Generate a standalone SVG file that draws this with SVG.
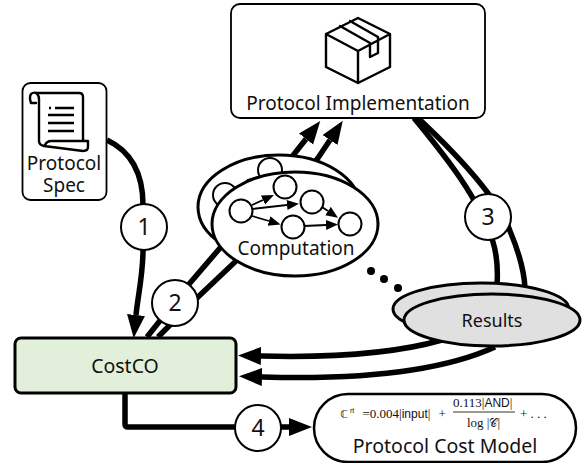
<svg xmlns="http://www.w3.org/2000/svg" width="587" height="463" viewBox="0 0 587 463">
<style>
text{font-family:"Noto Sans","Open Sans",sans-serif;fill:#111;text-anchor:middle}
.m{font-family:"Liberation Serif",serif;font-size:13px;text-anchor:start}
.f{font-family:"Liberation Sans",sans-serif;font-size:12px}
.w{fill:none;stroke:#000;stroke-width:5.500;stroke-linecap:butt}
.a{marker-end:url(#h)}
.s{fill:none;stroke:#000;stroke-width:1.800}
.i{fill:none;stroke:#000;stroke-width:2.400;stroke-linejoin:round;stroke-linecap:round}
.n{fill:#fff;stroke:#000;stroke-width:2}
.e{fill:#fff;stroke:#000;stroke-width:3}
.r{fill:#e0e0e0;stroke:#000;stroke-width:3}
.d{fill:#000}
.l{font-size:19px}
.c{font-size:23px}
</style>
<defs>
<marker id="h" markerUnits="userSpaceOnUse" markerWidth="24" markerHeight="20" refX="0" refY="9" orient="auto"><path d="M0 0L23 9L0 18Z" fill="#000"/></marker>
<marker id="t" markerUnits="userSpaceOnUse" markerWidth="14" markerHeight="12" refX="0" refY="5" orient="auto"><path d="M0 0L12 5L0 10Z" fill="#000"/></marker>
</defs>
<g id="connectors">
<path class="w a" d="M107 140C128 150 143 170 143 205L143 250C143 275 138 295 136 315"/>
<path class="w a" d="M147 337L190 283L220 248L306 139"/>
<path class="w a" d="M158 337L198 297L235 262L318 158L330 140"/>
<path class="w" d="M414 118C440 150 478 195 493 242C497 255 498 270 497 285"/>
<path class="w" d="M418 118C450 148 497 195 510 231C518 250 524 268 525 288"/>
<path class="w a" d="M442 340C400 352 340 358 261 356"/>
<path class="w a" d="M495 347C440 372 360 380 262 377"/>
<path class="w a" d="M125 393L125 424Q125 427 128 427L289 427"/>
</g>
<g id="spec">
<rect x="22.500" y="83" width="84" height="117" rx="8" fill="#fff" stroke="#000" stroke-width="1.800"/>
<path class="i" d="M36 103H31Q29 97 31 94Q33 92 37 93H79Q83 93 83 97V141M36 93Q39 95 39 99V141Q39 145 44 146L83 151Q88 151 88 147V141H51Q47 141 45 145"/>
<path d="M49 108h2M55 108h19M48 115h26M48 123h26M48 131h26" stroke="#000" stroke-width="2.600" fill="none"/>
<text class="l" x="64" y="170">Protocol<tspan x="64" dy="22">Spec</tspan></text>
</g>
<g id="implementation">
<rect x="231" y="4" width="254" height="114" rx="9" fill="#fff" stroke="#000" stroke-width="1.800"/>
<path class="i" d="M358 18L390 34L358 51L326 34ZM326 34V67L358 83L390 67V34M358 51V83M340 26L370 43V57L378 53V37L350 21"/>
<text class="l" x="358" y="110">Protocol Implementation</text>
</g>
<g id="computation">
<ellipse class="e" cx="279" cy="207" rx="81" ry="52"/>
<circle class="n" cx="270" cy="170" r="12"/>
<circle class="n" cx="225" cy="195" r="12"/>
<path d="M247 180L258 177" stroke="#000" stroke-width="1.500"/>
<ellipse class="e" cx="295" cy="224" rx="83" ry="52"/>
<circle class="n" cx="241" cy="211" r="11.500"/>
<circle class="n" cx="285" cy="187" r="11.500"/>
<circle class="n" cx="312" cy="202" r="11.500"/>
<circle class="n" cx="293" cy="227" r="11.500"/>
<circle class="n" cx="350" cy="224" r="11.500"/>
<path class="s" marker-end="url(#t)" d="M252 205L263 200"/>
<path class="s" marker-end="url(#t)" d="M252 209L287 205"/>
<path class="s" marker-end="url(#t)" d="M252 216L269 221"/>
<path class="s" marker-end="url(#t)" d="M322 207L328 211"/>
<path class="s" marker-end="url(#t)" d="M304 226L326 225"/>
<text class="l" x="296" y="255">Computation</text>
</g>
<g id="ellipsis">
<circle class="d" cx="371" cy="271" r="4"/>
<circle class="d" cx="384" cy="279" r="4"/>
<circle class="d" cx="398" cy="288" r="4"/>
</g>
<g id="results">
<ellipse class="r" cx="481" cy="309" rx="88" ry="26"/>
<ellipse class="r" cx="492" cy="320" rx="88" ry="26"/>
<text x="492" y="327" style="font-size:18px">Results</text>
</g>
<g id="costco">
<rect x="15" y="338" width="221" height="55" rx="6" fill="#e2efda" stroke="#000" stroke-width="3"/>
<text x="125" y="373" style="font-size:19.500px">CostCO</text>
</g>
<g id="model">
<rect x="314" y="394" width="262" height="68" rx="34" fill="#fff" stroke="#000" stroke-width="2.500"/>
<text class="m" x="340.500" y="418" style="font-family:'DejaVu Sans',sans-serif;font-size:11px">ℂ</text>
<text class="m f" x="350" y="413" style="font-size:7px">rt</text>
<text class="m" x="362.500" y="418">=0.004|<tspan class="f">input</tspan>|</text>
<text class="m" x="438.500" y="418">+</text>
<text class="m" x="453" y="407">0.113|<tspan class="f">AND</tspan>|</text>
<path d="M453 412H515" stroke="#000" stroke-width="0.800"/>
<text class="m" x="467" y="427">log |<tspan style="font-family:'DejaVu Sans','Noto Sans',sans-serif;font-size:11px">𝒞</tspan>|</text>
<text class="m" x="520" y="418">+ . . .</text>
<text x="445" y="453" style="font-size:19.500px">Protocol Cost Model</text>
</g>
<g id="badge1"><circle class="n" cx="144" cy="227" r="23"/><text class="c" x="144" y="235">1</text></g>
<g id="badge2"><circle class="n" cx="175" cy="303" r="23"/><text class="c" x="175" y="311">2</text></g>
<g id="badge3"><circle class="n" cx="488" cy="217" r="23"/><text class="c" x="488" y="225">3</text></g>
<g id="badge4"><circle class="n" cx="258" cy="428" r="23"/><text class="c" x="258" y="436">4</text></g>
</svg>
